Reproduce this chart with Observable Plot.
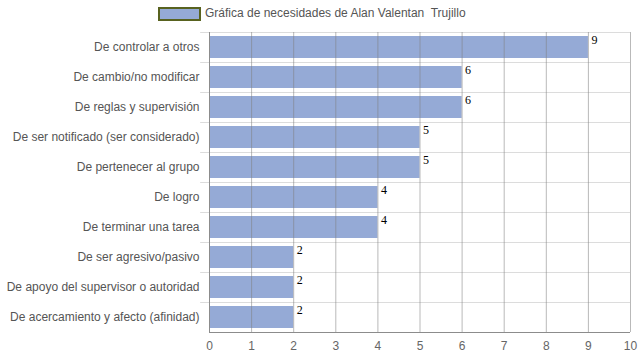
<!DOCTYPE html>
<html>
<head>
<meta charset="utf-8">
<script src="https://cdn.jsdelivr.net/npm/d3@7"></script>
<script src="https://cdn.jsdelivr.net/npm/@observablehq/plot@0.6"></script>
<style>
  html, body { margin: 0; padding: 0; background: #fff; }
  #legend { position: relative; height: 28px; width: 639px; font-family: Arial, "Liberation Sans", sans-serif; font-size: 12px; color: #555; }
  #legend .sw { position: absolute; left: 158px; top: 7px; width: 39px; height: 10px; background: #95aad6; border: 2px solid #58621f; }
  #legend .tx { position: absolute; left: 205px; top: 5px; line-height: 16px; white-space: pre; }
  .vlabels text { font-family: "Times New Roman", "Liberation Serif", serif !important; }
</style>
</head>
<body>
<div id="legend"><div class="sw"></div><div class="tx">Gráfica de necesidades de Alan Valentan  Trujillo</div></div>
<div id="chart"></div>
<script>
const categories = [
  "De controlar a otros",
  "De cambio/no modificar",
  "De reglas y supervisión",
  "De ser notificado (ser considerado)",
  "De pertenecer al grupo",
  "De logro",
  "De terminar una tarea",
  "De ser agresivo/pasivo",
  "De apoyo del supervisor o autoridad",
  "De acercamiento y afecto (afinidad)"
];
const values = [9, 6, 6, 5, 5, 4, 4, 2, 2, 2];
const xTicks = [0, 1, 2, 3, 4, 5, 6, 7, 8, 9, 10];

const data = categories.map((c, i) => ({category: c, value: values[i]}));

const chart = Plot.plot({
  width: 639,
  height: 332,
  marginTop: 4,
  marginBottom: 28,
  marginLeft: 209,
  marginRight: 9,
  style: {fontFamily: "Arial, 'Liberation Sans', sans-serif", fontSize: "12px", background: "#fff"},
  x: {domain: [0, 10], ticks: xTicks},
  y: {domain: categories, padding: 0},
  marks: [
    Plot.ruleY(categories, {y: d => d, dy: -15, x1: -0.21, x2: 10, stroke: "#dcdcdc"}),
    Plot.barX(data, {y: "category", x: "value", fill: "#95aad6", insetTop: 4, insetBottom: 4}),
    Plot.ruleX(xTicks, {stroke: "#7f7f7f", strokeOpacity: 0.55}),
    Plot.ruleX([0], {stroke: "#8c8c8c"}),
    Plot.ruleY([categories[categories.length - 1]], {dy: 15, stroke: "#8c8c8c"}),
    Plot.text(data, {
      y: "category", x: "value", text: d => String(d.value),
      textAnchor: "start", dx: 3, dy: -7,
      className: "vlabels",
      fontFamily: "Times New Roman", fontSize: 12, fill: "#000"
    }),
    Plot.axisY({tickSize: 0, tickPadding: 10, fill: "#555", label: null}),
    Plot.axisX({ticks: xTicks, tickSize: 0, tickPadding: 9, fill: "#666", label: null})
  ]
});
d3.select(chart).selectAll(".vlabels text, g.vlabels text").style("font-family", "'Times New Roman', 'Liberation Serif', serif");
document.getElementById("chart").appendChild(chart);
</script>
</body>
</html>
